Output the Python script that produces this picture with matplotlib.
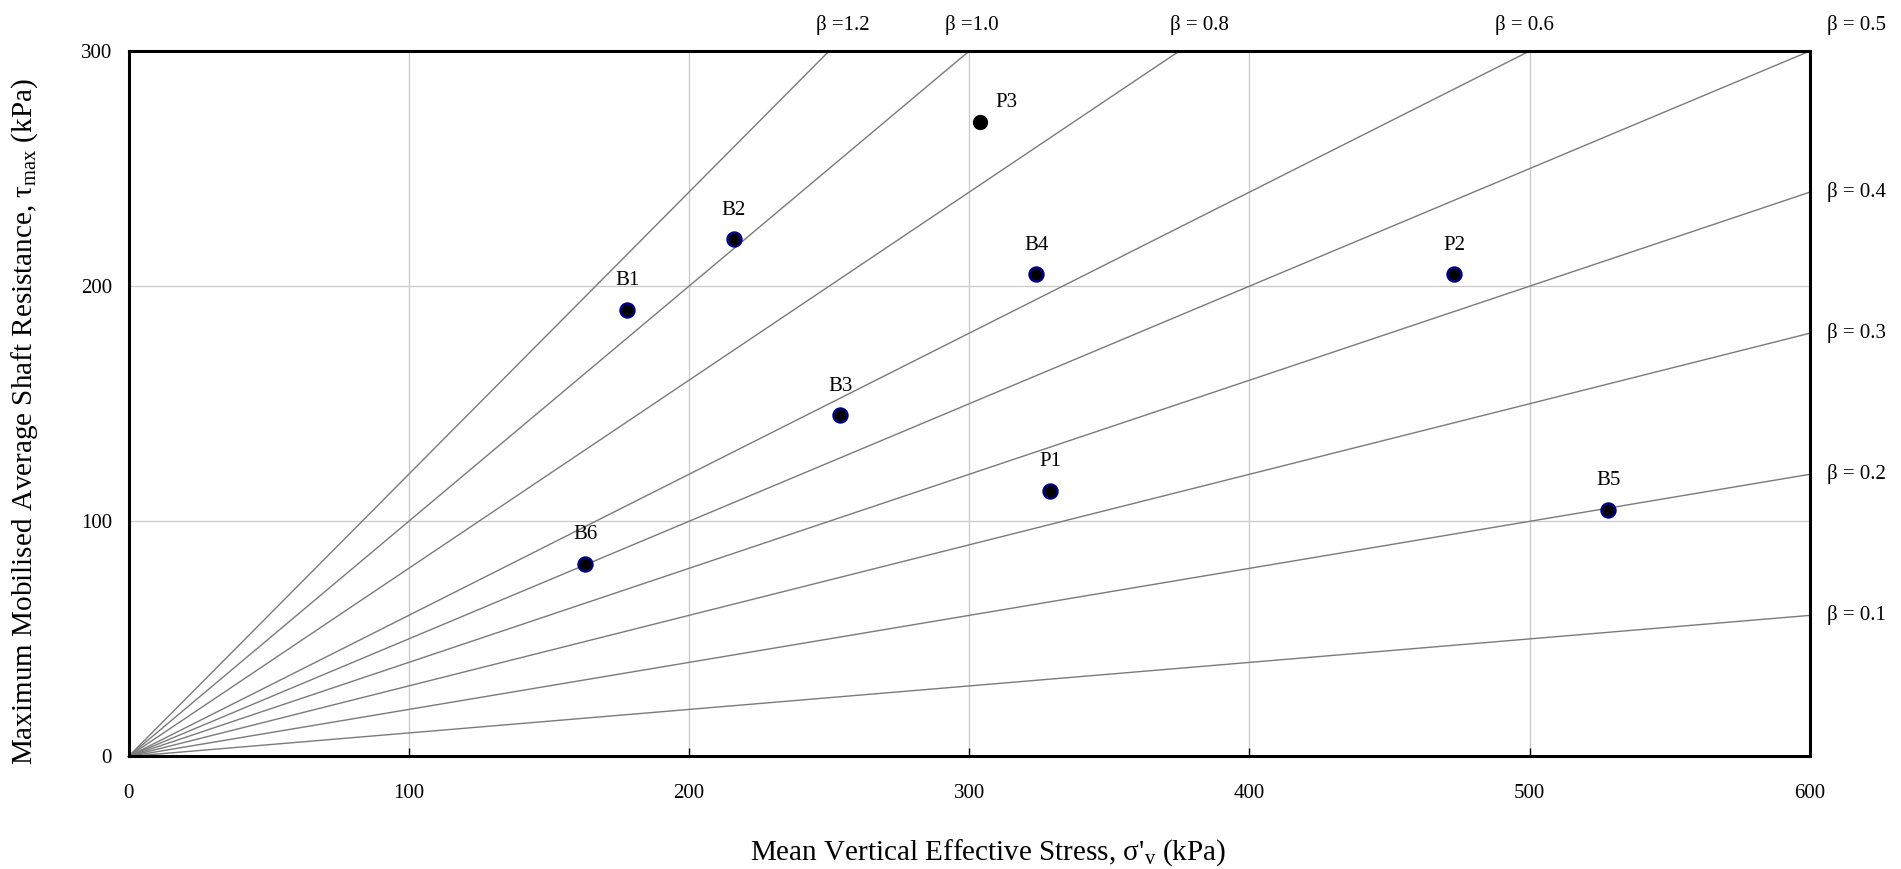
import matplotlib
matplotlib.use("Agg")
import matplotlib.pyplot as plt

plt.rcParams['font.family'] = ['Liberation Serif', 'DejaVu Serif']
plt.rcParams['mathtext.fontset'] = 'custom'
plt.rcParams['mathtext.rm'] = 'Liberation Serif'
plt.rcParams['mathtext.it'] = 'Liberation Serif'

# data
pile_names = ["B1", "B2", "P3", "B4", "P2", "B3", "P1", "B5", "B6"]
sigma_v = [178, 216, 304, 324, 473, 254, 329, 528, 163]
tau_max = [190, 220, 270, 205, 205, 145, 113, 105, 82]
betas = [0.1, 0.2, 0.3, 0.4, 0.5, 0.6, 0.8, 1.0, 1.2]
beta_labels = ["β = 0.1", "β = 0.2", "β = 0.3", "β = 0.4", "β = 0.5",
               "β = 0.6", "β = 0.8", "β =1.0", "β =1.2"]
x_ticks = [0, 100, 200, 300, 400, 500, 600]
y_ticks = [0, 100, 200, 300]

# label layout offsets (data units, x direction) for top labels
top_label_dx = {0.6: -2, 0.8: 7, 1.0: 1, 1.2: 5}

XMAX, YMAX = 600, 300

fig = plt.figure(figsize=(19.01, 8.69), dpi=100)
ax = fig.add_axes([0.0676, 0.1295, 0.8845, 0.8118])
ax.set_xlim(0, XMAX)
ax.set_ylim(0, YMAX)

ax.set_xticks(x_ticks)
ax.set_yticks(y_ticks)
ax.grid(True, color='#c8c8c8', linewidth=0.9)
ax.set_axisbelow(True)
ax.tick_params(axis='x', direction='in', length=6, width=1, labelsize=15, pad=20)
ax.tick_params(axis='y', direction='out', length=0, width=1, labelsize=15, pad=12)
for s in ax.spines.values():
    s.set_linewidth(2.2)
    s.set_color('black')
    s.set_zorder(5)

# beta lines
for b, lab in zip(betas, beta_labels):
    x_end = min(XMAX, YMAX / b)
    y_end = b * x_end
    ax.plot([0, x_end], [0, y_end], color='#7a7a7a', linewidth=1.0, zorder=2, clip_on=False)
    if y_end < YMAX - 1e-9:
        ax.text(XMAX + 6, y_end, lab, ha='left', va='center', fontsize=15, clip_on=False)
    elif abs(x_end - XMAX) < 1e-9:
        ax.text(XMAX + 6, YMAX + 7, lab, ha='left', va='bottom', fontsize=15, clip_on=False)
    else:
        ax.text(x_end + top_label_dx.get(b, 0), YMAX + 7, lab, ha='center', va='bottom',
                fontsize=15, clip_on=False)

# points
for name, xv, yv in zip(pile_names, sigma_v, tau_max):
    if name == "P3":
        ax.plot(xv, yv, 'o', markersize=10, markerfacecolor='black', markeredgecolor='black', zorder=4)
        ax.annotate(name, (xv, yv), xytext=(11, 7), textcoords='offset points',
                    ha='left', va='bottom', fontsize=15)
    else:
        ax.plot(xv, yv, 'o', markersize=10, markerfacecolor='black', markeredgecolor='#000080',
                markeredgewidth=1.8, zorder=4)
        ax.annotate(name, (xv, yv), xytext=(0, 14), textcoords='offset points',
                    ha='center', va='bottom', fontsize=15)

ax.set_xlabel("Mean Vertical Effective Stress, σ'$_\\mathrm{v}$ (kPa)", fontsize=21, va='center')
ax.set_ylabel("Maximum Mobilised Average Shaft Resistance, τ$_\\mathrm{max}$ (kPa)", fontsize=21,
              va='center')
ax.xaxis.set_label_coords(0.511, -0.137)
ax.yaxis.set_label_coords(-0.062, 0.474)

fig.savefig("out.png", dpi=100)
